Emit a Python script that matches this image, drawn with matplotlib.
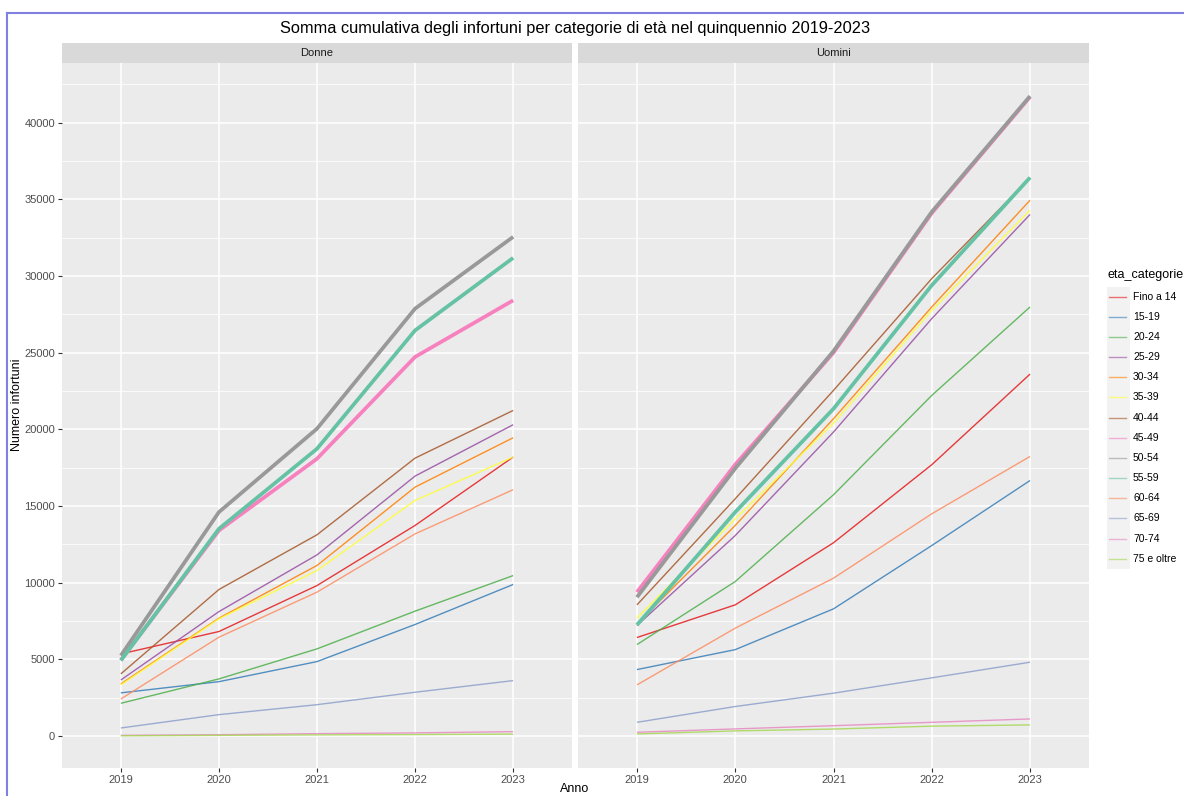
import numpy as np
import matplotlib
matplotlib.use('Agg')
from matplotlib import pyplot as plt
from matplotlib.lines import Line2D
from matplotlib.patches import Rectangle

plt.rcParams['font.family'] = ['Liberation Sans', 'DejaVu Sans']

anni = [2019, 2020, 2021, 2022, 2023]
categorie = ['Fino a 14', '15-19', '20-24', '25-29', '30-34', '35-39', '40-44',
             '45-49', '50-54', '55-59', '60-64', '65-69', '70-74', '75 e oltre']
colori = ['#E41A1C', '#377EB8', '#4DAF4A', '#984EA3', '#FF7F00', '#FFFF33', '#A65628',
          '#F781BF', '#999999', '#66C2A5', '#FC8D62', '#8DA0CB', '#E78AC3', '#A6D854']
# categorie evidenziate con linea spessa
evidenziate = ['45-49', '50-54', '55-59']

#Donne - somma cumulativa
donne = {
    'Fino a 14':  [5350, 6810, 9810, 13730, 18190],
    '15-19':      [2810, 3540, 4850, 7270, 9880],
    '20-24':      [2130, 3720, 5680, 8140, 10460],
    '25-29':      [3650, 8110, 11810, 16950, 20300],
    '30-34':      [3390, 7680, 11120, 16230, 19450],
    '35-39':      [3330, 7640, 10790, 15360, 18190],
    '40-44':      [4050, 9550, 13120, 18120, 21230],
    '45-49':      [4950, 13400, 18080, 24720, 28410],
    '50-54':      [5240, 14600, 20040, 27870, 32550],
    '55-59':      [4920, 13510, 18730, 26450, 31180],
    '60-64':      [2410, 6440, 9380, 13180, 16060],
    '65-69':      [520, 1390, 2040, 2850, 3610],
    '70-74':      [40, 80, 150, 200, 280],
    '75 e oltre': [10, 40, 70, 90, 120],
}

#Uomini - somma cumulativa
uomini = {
    'Fino a 14':  [6420, 8550, 12600, 17690, 23600],
    '15-19':      [4330, 5630, 8290, 12420, 16660],
    '20-24':      [5960, 10070, 15730, 22210, 27980],
    '25-29':      [7200, 13070, 19820, 27220, 34010],
    '30-34':      [7310, 13730, 20690, 27980, 34940],
    '35-39':      [7680, 14160, 20400, 27760, 34290],
    '40-44':      [8550, 15470, 22540, 29830, 36400],
    '45-49':      [9380, 17700, 25000, 34100, 41680],
    '50-54':      [9050, 17450, 25100, 34180, 41730],
    '55-59':      [7240, 14600, 21340, 29390, 36420],
    '60-64':      [3330, 7030, 10290, 14490, 18230],
    '65-69':      [890, 1920, 2790, 3790, 4810],
    '70-74':      [240, 460, 670, 890, 1110],
    '75 e oltre': [130, 330, 450, 640, 720],
}

W, H = 1184, 796
fig = plt.figure(figsize=(W / 100, H / 100), dpi=100)

def fx(px):
    return px / W

def fy(py):
    return 1 - py / H

pannelli = [('Donne', donne, 62, 572), ('Uomini', uomini, 578, 1089)]
top, bottom = 63, 768

for i, (nome, dati, x0, x1) in enumerate(pannelli):
    ax = fig.add_axes([fx(x0), fy(bottom), fx(x1 - x0), fy(top) - fy(bottom)])
    ax.set_facecolor('#EBEBEB')
    for s in ax.spines.values():
        s.set_visible(False)
    xs = np.arange(len(anni))
    # prima le linee sottili, poi quelle spesse
    for cat, col in zip(categorie, colori):
        if cat in evidenziate:
            continue
        ax.plot(xs, dati[cat], color=col, lw=1.0, alpha=0.85, solid_capstyle='butt')
    for cat, col in zip(categorie, colori):
        if cat in evidenziate:
            ax.plot(xs, dati[cat], color=col, lw=2.7, solid_capstyle='butt')
    ax.set_xlim(-0.6, len(anni) - 0.4)
    ax.set_ylim(-2090, 43890)
    ax.set_xticks(xs)
    ax.set_xticklabels([str(a) for a in anni])
    ax.set_yticks(np.arange(0, 40001, 5000))
    ax.set_yticks(np.arange(2500, 42501, 5000), minor=True)
    ax.grid(True, which='major', color='white', lw=1.1)
    ax.grid(True, which='minor', axis='y', color='white', lw=0.55)
    ax.set_axisbelow(True)
    ax.tick_params(axis='both', which='major', length=3, width=0.8, color='#333333',
                   labelsize=8, labelcolor='#4D4D4D', pad=2)
    ax.tick_params(axis='y', which='minor', length=0)
    if i == 1:
        ax.tick_params(axis='y', which='major', left=False, labelleft=False)
    # strip
    sax = fig.add_axes([fx(x0), fy(top), fx(x1 - x0), fy(43) - fy(top)])
    sax.set_facecolor('#D9D9D9')
    sax.set_xticks([])
    sax.set_yticks([])
    for s in sax.spines.values():
        s.set_visible(False)
    sax.text(0.5, 0.5, nome, ha='center', va='center', fontsize=8, color='#1A1A1A',
             transform=sax.transAxes)

fig.text(fx(575), fy(29), 'Somma cumulativa degli infortuni per categorie di età nel quinquennio 2019-2023',
         ha='center', va='center', fontsize=11.8, color='black')
fig.text(fx(17), fy(405), 'Numero infortuni', rotation=90, ha='center', va='center',
         fontsize=9, color='black')
fig.text(fx(575), fy(795), 'Anno', ha='center', va='bottom', fontsize=9, color='black')

#Legenda
fig.text(fx(1107), fy(275), 'eta_categorie', ha='left', va='center', fontsize=9, color='black')
passo = 20.15
y_primo = 296.7
fig.add_artist(Rectangle((fx(1107), fy(y_primo + passo * (len(categorie) - 1) + passo / 2)),
                         fx(23), (passo * len(categorie)) / H,
                         transform=fig.transFigure, facecolor='#F2F2F2', edgecolor='none'))
for k, (cat, col) in enumerate(zip(categorie, colori)):
    yk = fy(y_primo + k * passo)
    fig.add_artist(Line2D([fx(1109), fx(1126)], [yk, yk], transform=fig.transFigure,
                          color=col, lw=1.0, alpha=0.6))
    fig.text(fx(1133), yk, cat, ha='left', va='center', fontsize=7.5, color='black')

#bordo blu
fig.add_artist(Line2D([fx(7), fx(7)], [fy(13), 0], transform=fig.transFigure,
                      color='#8080E0', lw=1.5))
fig.add_artist(Line2D([fx(7), 1], [fy(13), fy(13)], transform=fig.transFigure,
                      color='#8080E0', lw=1.5))

fig.savefig('out.png', dpi=100, facecolor='white')
